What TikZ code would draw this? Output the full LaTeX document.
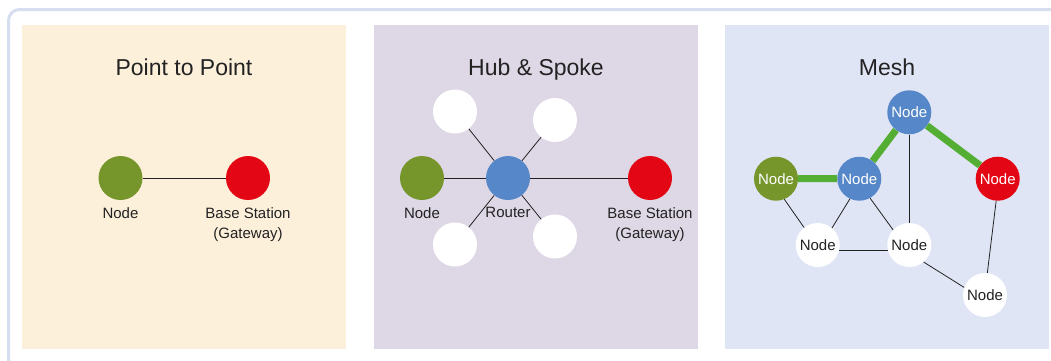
\documentclass[tikz,border=0pt]{standalone}
\usepackage{fontspec}
\setmainfont{Liberation Sans}
\usepackage{tikz}
\usetikzlibrary{positioning}

\definecolor{framecol}{HTML}{D6DEF0}
\definecolor{sandbg}{HTML}{FDF0DB}
\definecolor{lilacbg}{HTML}{DED7E6}
\definecolor{bluebg}{HTML}{E0E5F5}
\definecolor{nodegreen}{HTML}{76962C}
\definecolor{gwred}{HTML}{E30614}
\definecolor{routerblue}{HTML}{5687C8}
\definecolor{pathgreen}{HTML}{54AE33}
\definecolor{inkgrey}{HTML}{222222}

\tikzset{
  dot/.style={circle, inner sep=0pt, minimum size=44pt, font=\fontsize{15}{18}\selectfont},
  endnode/.style={dot, fill=nodegreen, text=white},
  gateway/.style={dot, fill=gwred, text=white},
  router/.style={dot, fill=routerblue, text=white},
  blank/.style={dot, fill=white, text=inkgrey},
  lbl/.style={font=\fontsize{15}{20}\selectfont, text=inkgrey, inner sep=0pt, align=center},
  heading/.style={font=\fontsize{23}{26}\selectfont, text=inkgrey, anchor=base},
  route/.style={draw=pathgreen, line width=7pt}
}
\tikzstyle{link} = [draw, line width=0.8pt, color=inkgrey]

\begin{document}
\begin{tikzpicture}[x=1pt,y=-1pt]
      \useasboundingbox (0,0) rectangle (1051,360);
      \clip (0,0) rectangle (1051,360);

      % Draw outer frame and the three panels.
      \draw[framecol, line width=3pt, rounded corners=11pt] (8.5,9.5) rectangle (1080,400);
      \fill[sandbg] (22,25) rectangle (346,349);
      \fill[lilacbg] (374,25) rectangle (698,349);
      \fill[bluebg] (725,25) rectangle (1049,349);

      % Point to point.
      \node[heading] (pptitle) at (184,75) {Point to Point};
      \node[endnode] (ppnode) at (120.5,178) {};
      \node[gateway] (ppgw) at (248,178) {};
      \draw[link] (ppnode) -- (ppgw);
      \node[lbl, below=7pt of ppnode] (ppnodel) {Node};
      \node[lbl, below=7pt of ppgw] (ppgwl) {Base Station\\(Gateway)};

      % Hub and spoke, with four blank spokes round the router.
      \node[heading] (hstitle) at (536,75) {Hub \& Spoke};
      \node[router] (hub) at (508,178) {};
      \node[endnode] (hsnode) at (422,178) {};
      \node[gateway] (hsgw) at (650,178) {};
      \node[blank] (spa) at (455,111.5) {};
      \node[blank] (spb) at (555,120) {};
      \node[blank] (spc) at (455,244.5) {};
      \node[blank] (spd) at (555,236.5) {};
      \foreach \s in {hsnode,hsgw,spa,spb,spc,spd}
        \draw[link] (hub) -- (\s);
      \node[lbl, below=7pt of hsnode] (hsnodel) {Node};
      \node[lbl, below=7pt of hub] (hubl) {Router};
      \node[lbl, below=7pt of hsgw] (hsgwl) {Base Station\\(Gateway)};

      % Mesh.
      \node[heading] (mtitle) at (887,75) {Mesh};
      \node[router] (mtop) at (909.3,112.3) {Node};
      \node[endnode] (mleft) at (776,178.7) {Node};
      \node[router] (mmid) at (859.3,178.7) {Node};
      \node[gateway] (mright) at (997.7,178.7) {Node};
      \node[blank] (mlow) at (817.7,245) {Node};
      \node[blank] (mcen) at (909.3,245) {Node};
      \node[blank] (mfar) at (985,295) {Node};

      % Highlighted route from end node to gateway.
      \draw[route] (mleft) -- (mmid) (mmid) -- (mtop) (mtop) -- (mright);

      % Plain mesh links.
      \draw[link] (mleft.-68) -- (mlow.128);
      \draw[link] (mmid.-115) -- (mlow.50);
      \draw[link] (mmid.-61) -- (mcen.137);
      \draw[link] (mtop) -- (mcen);
      \draw[link] (mlow.-15) -- (mcen.195);
      \draw[link] (mcen.-50) -- (mfar.160);
      \draw[link] (mright.-94) -- (mfar.84);

\end{tikzpicture}
\end{document}
